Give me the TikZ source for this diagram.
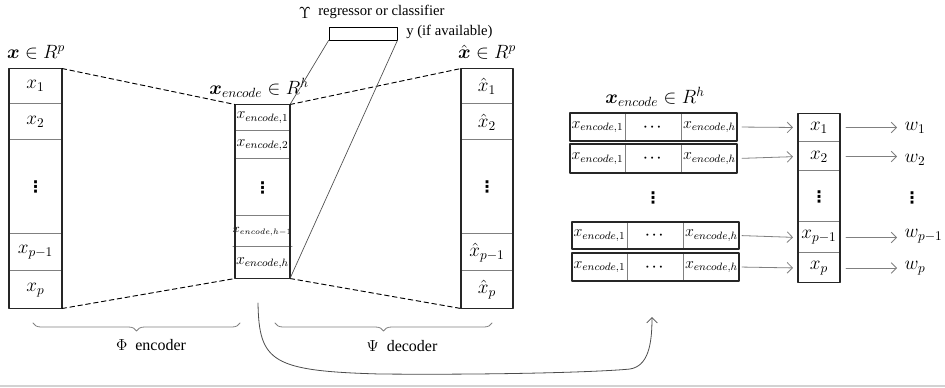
\documentclass[tikz,border=0pt]{standalone}
\usepackage{amsmath,amssymb}
\usepackage{fontspec}
\setmainfont{Liberation Serif}
\newfontfamily\dotsfont{DejaVu Sans}
\usetikzlibrary{arrows.meta,decorations.pathreplacing,calc}
\newcommand{\px}{0.75pt}
\newcommand{\vdotsbig}{{\dotsfont\bfseries\large ⋮}}

\begin{document}
\begin{tikzpicture}[line cap=round,line join=round,x=0.75pt,y=-0.75pt,
    cell/.style={inner sep=0pt,outer sep=0pt},
    divider/.style={draw=gray,line width=0.5pt},
    frame/.style={draw=black!85,line width=0.9pt},
    dashline/.style={line width=0.7pt,dash pattern=on 3.5pt off 2.5pt},
    thinline/.style={draw=black!70,line width=0.5pt},
    arr/.style={draw=gray,line width=0.6pt,-{Straight Barb[length=4pt,width=8pt]}},
    bracestyle/.style={draw=gray,line width=0.6pt,decorate,decoration={brace,mirror,amplitude=6pt}},
    captext/.style={font=\fontsize{11pt}{13pt}\selectfont}]
    \useasboundingbox (0,0) rectangle (945,387);
    % input column
    \node[cell,minimum width=53*\px,minimum height=35*\px] (x1) at (35.5,86) {\Large $x_1$};
    \node[cell,minimum width=53*\px,minimum height=35*\px] (x2) at (35.5,122) {\Large $x_2$};
    \node[cell,minimum width=53*\px,minimum height=93*\px] (xd) at (35.5,187) {\vdotsbig};
    \node[cell,minimum width=53*\px,minimum height=36*\px] (xpm) at (35.5,252.5) {\Large $x_{p-1}$};
    \node[cell,minimum width=53*\px,minimum height=37*\px] (xp) at (35.5,290) {\Large $x_p$};
    \draw[divider] (x1.south west) -- (x1.south east);
    \draw[divider] (x2.south west) -- (x2.south east);
    \draw[divider] (xd.south west) -- (xd.south east);
    \draw[divider] (xpm.south west) -- (xpm.south east);
    \draw[frame] (x1.north west) rectangle (xp.south east);
    \node (xlab) at (36,52) {\Large $\boldsymbol{x}\in R^p$};
    % encoded column
    \node[cell,minimum width=55*\px,minimum height=26*\px] (e1) at (262.5,117.5) {\large $x_{encode,1}$};
    \node[cell,minimum width=55*\px,minimum height=27*\px] (e2) at (262.5,145) {\large $x_{encode,2}$};
    \node[cell,minimum width=55*\px,minimum height=56*\px] (ed) at (262.5,187.5) {\vdotsbig};
    \node[cell,minimum width=55*\px,minimum height=30*\px] (ehm) at (262.5,231.5) {\small $x_{encode,h-1}$};
    \node[cell,minimum width=55*\px,minimum height=31*\px] (eh) at (262.5,263) {\large $x_{encode,h}$};
    \draw[divider] (e1.south west) -- (e1.south east);
    \draw[divider] (e2.south west) -- (e2.south east);
    \draw[divider] (ed.south west) -- (ed.south east);
    \draw[divider] (ehm.south west) -- (ehm.south east);
    \draw[frame] (e1.north west) rectangle (eh.south east);
    \node (elab) at (259,88) {\Large $\boldsymbol{x}_{encode}\in R^h$};
    % reconstructed column
    \node[cell,minimum width=52*\px,minimum height=35*\px] (y1) at (487,86) {\Large $\hat{x}_1$};
    \node[cell,minimum width=52*\px,minimum height=35*\px] (y2) at (487,122) {\Large $\hat{x}_2$};
    \node[cell,minimum width=52*\px,minimum height=93*\px] (yd) at (487,187) {\vdotsbig};
    \node[cell,minimum width=52*\px,minimum height=36*\px] (ypm) at (487,252.5) {\Large $\hat{x}_{p-1}$};
    \node[cell,minimum width=52*\px,minimum height=37*\px] (yp) at (487,290) {\Large $\hat{x}_p$};
    \draw[divider] (y1.south west) -- (y1.south east);
    \draw[divider] (y2.south west) -- (y2.south east);
    \draw[divider] (yd.south west) -- (yd.south east);
    \draw[divider] (ypm.south west) -- (ypm.south east);
    \draw[frame] (y1.north west) rectangle (yp.south east);
    \node (ylab) at (487,52) {\Large $\hat{\boldsymbol{x}}\in R^p$};
    % dashed funnels
    \draw[dashline] (x1.north east) -- (e1.north west);
    \draw[dashline] (xp.south east) -- (eh.south west);
    \draw[dashline] (e1.north east) -- (y1.north west);
    \draw[dashline] (eh.south east) -- (yp.south west);
    % regressor
    \node[draw,line width=0.6pt,minimum width=68*\px,minimum height=13*\px,inner sep=0pt] (reg) at (363,33.5) {};
    \node (ups) at (305,13) {\large $\Upsilon$};
    \node[captext,anchor=west,inner sep=0pt] (reglab) at (318,12) {regressor or classifier};
    \node[captext,anchor=west,inner sep=0pt] (ylabel) at (406,32) {y (if available)};
    \draw[thinline] (reg.south west) -- (e1.north east);
    \draw[thinline] (reg.south east) -- (eh.south east);
    % braces
    \draw[bracestyle] (33,323) -- (240,323);
    \draw[bracestyle] (275,323) -- (492,323);
    \node[captext] (enc) at (151,345) {\large $\Phi$\ \ encoder};
    \node[captext] (dec) at (402,346) {\large $\Psi$\ \ decoder};
    % curved arrow
    \coordinate (cstart) at (258,303);
    \coordinate (cend) at (652,317);
    \draw[arr,draw=black!70] (cstart) .. controls (259,362) and (272,371) .. (380,374)
        .. controls (500,375) and (600,372) .. (630,369)
        .. controls (648,366) and (652,345) .. (cend);
    % encoded rows
    \node (rlab) at (655,97) {\Large $\boldsymbol{x}_{encode}\in R^h$};
    \node[cell,minimum width=55*\px,minimum height=28*\px] (r1a) at (597.5,127) {\large $x_{encode,1}$};
    \node[cell,minimum width=56*\px,minimum height=28*\px] (r1b) at (653.5,127) {$\boldsymbol{\cdots}$};
    \node[cell,minimum width=55*\px,minimum height=28*\px] (r1c) at (709.5,127) {\large $x_{encode,h}$};
    \draw[divider] (r1a.north east) -- (r1a.south east);
    \draw[divider] (r1b.north east) -- (r1b.south east);
    \draw[frame] (r1a.north west) rectangle (r1c.south east);
    \node[cell,minimum width=55*\px,minimum height=29*\px] (r2a) at (597.5,158.5) {\large $x_{encode,1}$};
    \node[cell,minimum width=56*\px,minimum height=29*\px] (r2b) at (653.5,158.5) {$\boldsymbol{\cdots}$};
    \node[cell,minimum width=55*\px,minimum height=29*\px] (r2c) at (709.5,158.5) {\large $x_{encode,h}$};
    \draw[divider] (r2a.north east) -- (r2a.south east);
    \draw[divider] (r2b.north east) -- (r2b.south east);
    \draw[frame] (r2a.north west) rectangle (r2c.south east);
    \node (rd) at (653,198) {\vdotsbig};
    \node[cell,minimum width=55*\px,minimum height=27*\px] (r3a) at (599.5,235.5) {\large $x_{encode,1}$};
    \node[cell,minimum width=56*\px,minimum height=27*\px] (r3b) at (655.5,235.5) {$\boldsymbol{\cdots}$};
    \node[cell,minimum width=55*\px,minimum height=27*\px] (r3c) at (711.5,235.5) {\large $x_{encode,h}$};
    \draw[divider] (r3a.north east) -- (r3a.south east);
    \draw[divider] (r3b.north east) -- (r3b.south east);
    \draw[frame] (r3a.north west) rectangle (r3c.south east);
    \node[cell,minimum width=55*\px,minimum height=28*\px] (r4a) at (599.5,267) {\large $x_{encode,1}$};
    \node[cell,minimum width=56*\px,minimum height=28*\px] (r4b) at (655.5,267) {$\boldsymbol{\cdots}$};
    \node[cell,minimum width=55*\px,minimum height=28*\px] (r4c) at (711.5,267) {\large $x_{encode,h}$};
    \draw[divider] (r4a.north east) -- (r4a.south east);
    \draw[divider] (r4b.north east) -- (r4b.south east);
    \draw[frame] (r4a.north west) rectangle (r4c.south east);
    % feature column
    \node[cell,minimum width=42*\px,minimum height=28*\px] (c1) at (819,127.5) {\Large $x_1$};
    \node[cell,minimum width=42*\px,minimum height=28*\px] (c2) at (819,156.5) {\Large $x_2$};
    \node[cell,minimum width=42*\px,minimum height=50*\px] (cd) at (819,196.5) {\vdotsbig};
    \node[cell,minimum width=42*\px,minimum height=30*\px] (cpm) at (819,237.5) {\Large $x_{p-1}$};
    \node[cell,minimum width=42*\px,minimum height=29*\px] (cp) at (819,268) {\Large $x_p$};
    \draw[divider] (c1.south west) -- (c1.south east);
    \draw[divider] (c2.south west) -- (c2.south east);
    \draw[divider] (cd.south west) -- (cd.south east);
    \draw[divider] (cpm.south west) -- (cpm.south east);
    \draw[frame] (c1.north west) rectangle (cp.south east);
    % weights
    \node[anchor=west] (w1) at (900,128) {\Large $w_1$};
    \node[anchor=west] (w2) at (900,160) {\Large $w_2$};
    \node (wd) at (912,198) {\vdotsbig};
    \node[anchor=west] (wpm) at (900,236) {\Large $w_{p-1}$};
    \node[anchor=west] (wp) at (900,268) {\Large $w_p$};
    % arrows
    \draw[arr,shorten <=5*\px,shorten >=5*\px] (r1c.east) -- (c1.west);
    \draw[arr,shorten <=5*\px,shorten >=5*\px] (r2c.east) -- (c2.west);
    \draw[arr,shorten <=3*\px,shorten >=5*\px] (r3c.east) -- (cpm.west);
    \draw[arr,shorten <=3*\px,shorten >=5*\px] (r4c.east) -- (cp.west);
    \draw[arr,shorten <=6*\px] (c1.east) -- (c1.east -| 897,0);
    \draw[arr,shorten <=6*\px] (c2.east) -- (c2.east -| 897,0);
    \draw[arr,shorten <=6*\px] (cpm.east) -- (cpm.east -| 897,0);
    \draw[arr,shorten <=6*\px] (cp.east) -- (cp.east -| 897,0);
    % separator
    \draw[draw=gray!35,line width=1pt] (0,386) -- (945,386);
\end{tikzpicture}
\end{document}
